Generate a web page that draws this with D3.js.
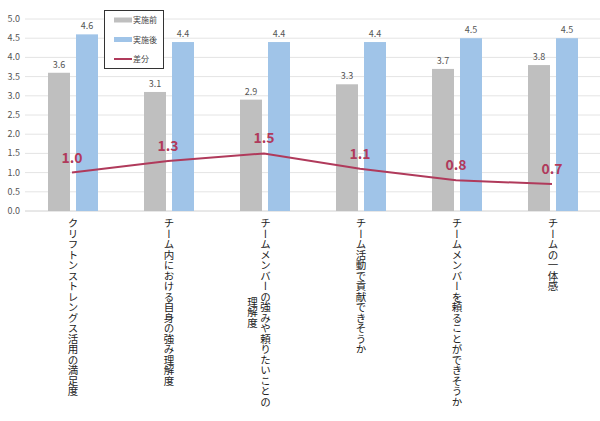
<!DOCTYPE html>
<html><head><meta charset="utf-8">
<script src="https://cdn.jsdelivr.net/npm/d3@7"></script>
<style>body{margin:0;background:#fff}text{font-family:"Noto Sans CJK JP","Noto Sans",sans-serif}</style>
</head><body><svg id="c" width="600" height="421"></svg>
<script>
const categories=[["クリフトンストレングス活用の満足度"],["チーム内における自身の強み理解度"],["チームメンバーの強みや頼りたいことの","理解度"],["チーム活動で貢献できそうか"],["チームメンバーを頼ることができそうか"],["チームの一体感"]];
const before=[3.6,3.1,2.9,3.3,3.7,3.8];
const after=[4.6,4.4,4.4,4.4,4.5,4.5];
const diff=[1.0,1.3,1.5,1.1,0.8,0.7];
const yTicks=[0,0.5,1,1.5,2,2.5,3,3.5,4,4.5,5];
const svg=d3.select("#c");
const x=d3.scaleBand().domain(d3.range(6)).range([25,601]);
const y=d3.scaleLinear().domain([0,5]).range([211,19]);
const g=svg.append("g");
g.selectAll("line.g").data(yTicks).join("line").attr("x1",25).attr("x2",600).attr("y1",d=>y(d)).attr("y2",d=>y(d)).attr("stroke",d=>d===0?"#d0d0d0":"#e4e4e4");
g.selectAll("text.yt").data(yTicks).join("text").attr("x",20).attr("y",d=>y(d)+3).attr("text-anchor","end").attr("font-size",9).attr("fill","#555").text(d=>d.toFixed(1));
const bw=22;
const cx=i=>x(i)+x.bandwidth()/2;
g.selectAll("rect.b").data(before).join("rect").attr("x",(d,i)=>cx(i)-25).attr("width",bw).attr("y",d=>y(d)).attr("height",d=>y(0)-y(d)).attr("fill","#bfbfbf");
g.selectAll("rect.a").data(after).join("rect").attr("x",(d,i)=>cx(i)+3).attr("width",bw).attr("y",d=>y(d)).attr("height",d=>y(0)-y(d)).attr("fill","#a0c4e8");
g.selectAll("text.bl").data(before).join("text").attr("x",(d,i)=>cx(i)-14).attr("y",d=>y(d)-5).attr("text-anchor","middle").attr("font-size",9).attr("fill","#555").text(d=>d.toFixed(1));
g.selectAll("text.al").data(after).join("text").attr("x",(d,i)=>cx(i)+14).attr("y",d=>y(d)-5).attr("text-anchor","middle").attr("font-size",9).attr("fill","#555").text(d=>d.toFixed(1));
const line=d3.line().x((d,i)=>cx(i)-1).y(d=>y(d));
g.append("path").datum(diff).attr("d",line).attr("fill","none").attr("stroke","#b03a5b").attr("stroke-width",2);
g.selectAll("text.dl").data(diff).join("text").attr("x",(d,i)=>cx(i)-1).attr("y",d=>y(d)-10).attr("text-anchor","middle").attr("font-size",14).attr("font-weight",600).attr("fill","#b03a5b").text(d=>d.toFixed(1));
// x labels
const fs=10.5;
categories.forEach((lines,i)=>{
  const n=lines.length;
  const mainLen=lines[0].length*fs;
  lines.forEach((t,j)=>{
    const xx=cx(i)+(n>1?( (n-1)/2 - j)*13 - 6:0);
    if(n>1){
      g.append("text").attr("x",xx).attr("y",218+mainLen/2).attr("text-anchor","middle").attr("writing-mode","vertical-rl").attr("font-size",fs).attr("fill","#222").text(t);
    } else {
      g.append("text").attr("x",xx).attr("y",218).attr("writing-mode","vertical-rl").attr("font-size",fs).attr("fill","#222").text(t);
    }
  });
});
// legend
const lg=svg.append("g");
lg.append("rect").attr("x",104.5).attr("y",10.5).attr("width",59).attr("height",58).attr("fill","#fff").attr("stroke","#333");
const items=[["実施前","#bfbfbf",5],["実施後","#a0c4e8",5],["差分","#b03a5b",2]];
items.forEach((it,k)=>{
  const yy=20+k*19.5;
  lg.append("rect").attr("x",114).attr("y",yy-it[2]/2).attr("width",18).attr("height",it[2]).attr("fill",it[1]);
  lg.append("text").attr("x",133).attr("y",yy+3).attr("font-size",8).attr("fill","#444").text(it[0]);
});
</script></body></html>
